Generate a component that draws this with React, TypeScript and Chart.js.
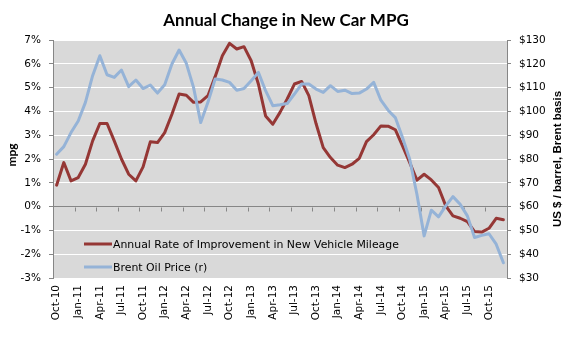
import React, { useEffect, useRef } from 'react';
import { Chart, registerables } from 'chart.js';

Chart.register(...registerables);

const months = [
  'Oct-10', 'Nov-10', 'Dec-10',
  'Jan-11', 'Feb-11', 'Mar-11', 'Apr-11', 'May-11', 'Jun-11', 'Jul-11', 'Aug-11', 'Sep-11', 'Oct-11', 'Nov-11', 'Dec-11',
  'Jan-12', 'Feb-12', 'Mar-12', 'Apr-12', 'May-12', 'Jun-12', 'Jul-12', 'Aug-12', 'Sep-12', 'Oct-12', 'Nov-12', 'Dec-12',
  'Jan-13', 'Feb-13', 'Mar-13', 'Apr-13', 'May-13', 'Jun-13', 'Jul-13', 'Aug-13', 'Sep-13', 'Oct-13', 'Nov-13', 'Dec-13',
  'Jan-14', 'Feb-14', 'Mar-14', 'Apr-14', 'May-14', 'Jun-14', 'Jul-14', 'Aug-14', 'Sep-14', 'Oct-14', 'Nov-14', 'Dec-14',
  'Jan-15', 'Feb-15', 'Mar-15', 'Apr-15', 'May-15', 'Jun-15', 'Jul-15', 'Aug-15', 'Sep-15', 'Oct-15', 'Nov-15', 'Dec-15',
];

// Annual rate of improvement in new vehicle mileage (%)
const mpgChange = [
  0.9, 1.85, 1.08, 1.22, 1.78, 2.76, 3.49, 3.49, 2.76, 2.0, 1.36, 1.08, 1.67, 2.72, 2.69, 3.11,
  3.88, 4.73, 4.68, 4.38, 4.4, 4.66, 5.46, 6.34, 6.86, 6.62, 6.72, 6.13, 5.15, 3.81, 3.46, 3.96,
  4.52, 5.15, 5.26, 4.66, 3.49, 2.48, 2.06, 1.74, 1.64, 1.78, 2.03, 2.73, 3.02, 3.39, 3.38, 3.23,
  2.55, 1.85, 1.11, 1.36, 1.12, 0.8, 0.03, -0.39, -0.49, -0.63, -1.05, -1.07, -0.91, -0.49, -0.55,
];

// Brent oil price, US $ / barrel (right axis)
const brentPrice = [
  82, 85.2, 91.1, 96, 103.8, 115, 123.4, 115.4, 114.3, 117.4, 110.4, 113.2, 109.6, 111.1, 107.7, 111.2,
  119.9, 125.8, 120.2, 110.1, 95.3, 103.8, 113.6, 113.2, 112.2, 108.9, 109.6, 112.9, 116.4, 108.7, 102.4, 102.8,
  103.3, 107.3, 111.5, 111.5, 109.4, 108, 110.8, 108.4, 108.9, 107.5, 107.7, 109.4, 112.2, 104.7, 100.5, 97.4,
  89, 79.9, 65.2, 47.7, 58.5, 55.7, 60.3, 64.2, 61, 56.1, 47, 47.9, 48.6, 44.2, 36.4,
];

const leftTicks = { min: -3, max: 7, step: 1 };
const rightTicks = { min: 30, max: 130, step: 10 };

const chartTitle = 'Annual Change in New Car MPG';
const leftAxisTitle = 'mpg';
const rightAxisTitle = 'US $ / barrel, Brent basis';
const seriesNames = ['Annual Rate of Improvement in New Vehicle Mileage', 'Brent Oil Price (r)'];

const RED = '#953735';
const BLUE = '#95B3D7';
const PLOT_BG = '#D9D9D9';
const AXIS = '#868686';
const TICK_FONT = 'DejaVu Sans';

const decor = {
  id: 'decor',
  beforeDraw(chart: any) {
    const { ctx, chartArea: a } = chart;
    ctx.save();
    ctx.fillStyle = PLOT_BG;
    ctx.fillRect(a.left, a.top, a.right - a.left, a.bottom - a.top);
    ctx.restore();
  },
  beforeDatasetsDraw(chart: any) {
    const { ctx } = chart;
    const xs = chart.scales.x;
    const ys = chart.scales.y;
    const y0 = Math.round(ys.getPixelForValue(0)) + 0.5;
    const half = (xs.getPixelForValue(1) - xs.getPixelForValue(0)) / 2;
    ctx.save();
    ctx.strokeStyle = AXIS;
    ctx.lineWidth = 1;
    ctx.beginPath();
    for (let i = 0; i <= months.length; i += 3) {
      const px = Math.round(xs.getPixelForValue(i) - half) + 0.5;
      ctx.moveTo(px, y0);
      ctx.lineTo(px, y0 + 4);
    }
    ctx.stroke();
    ctx.restore();
  },
  afterDraw(chart: any) {
    const { ctx, chartArea: a, width } = chart;
    ctx.save();
    // main title
    ctx.fillStyle = '#000';
    ctx.font = 'bold 17px Lato';
    ctx.textAlign = 'center';
    ctx.textBaseline = 'middle';
    ctx.fillText(chartTitle, width / 2, 21);

    // left axis title
    ctx.save();
    ctx.translate(12, (a.top + a.bottom) / 2 - 4);
    ctx.rotate(-Math.PI / 2);
    ctx.font = 'bold 12px Lato';
    ctx.fillText(leftAxisTitle, 0, 0);
    ctx.restore();

    // right axis title
    ctx.save();
    ctx.translate(558, (a.top + a.bottom) / 2);
    ctx.rotate(-Math.PI / 2);
    ctx.font = 'bold 11.5px "Liberation Sans"';
    ctx.fillText(rightAxisTitle, 0, 0);
    ctx.restore();

    // legend inside plot area
    const colors = [RED, BLUE];
    const rowsY = [a.bottom - 34, a.bottom - 11];
    ctx.font = `10.9px "${TICK_FONT}"`;
    ctx.textAlign = 'left';
    for (let k = 0; k < seriesNames.length; k++) {
      const y = rowsY[k];
      ctx.strokeStyle = colors[k];
      ctx.lineWidth = 3;
      ctx.beginPath();
      ctx.moveTo(a.left + 31, y);
      ctx.lineTo(a.left + 59, y);
      ctx.stroke();
      ctx.fillStyle = '#000';
      ctx.fillText(seriesNames[k], a.left + 60, y + 1);
    }
    ctx.restore();
  },
};

export default function App() {
  const ref = useRef<HTMLCanvasElement>(null);
  useEffect(() => {
    document.body.style.margin = '0';
    const chart = new Chart(ref.current as HTMLCanvasElement, {
      type: 'line',
      data: {
        labels: months,
        datasets: [
          {
            label: seriesNames[0],
            data: mpgChange,
            yAxisID: 'y',
            borderColor: RED,
            backgroundColor: RED,
            borderWidth: 3,
            pointRadius: 0,
            tension: 0,
            borderJoinStyle: 'round',
            borderCapStyle: 'round',
            order: 1,
          },
          {
            label: seriesNames[1],
            data: brentPrice,
            yAxisID: 'y1',
            borderColor: BLUE,
            backgroundColor: BLUE,
            borderWidth: 3,
            pointRadius: 0,
            tension: 0,
            borderJoinStyle: 'round',
            borderCapStyle: 'round',
            order: 0,
          },
        ],
      },
      options: {
        responsive: false,
        animation: false,
        layout: { padding: { top: 40, left: 0, right: 0, bottom: 0 } },
        plugins: {
          legend: { display: false },
          title: { display: false },
          tooltip: { enabled: false },
        },
        scales: {
          x: {
            type: 'category',
            offset: true,
            grid: { display: false, drawTicks: false },
            border: { display: false },
            ticks: {
              autoSkip: false,
              maxRotation: 90,
              minRotation: 90,
              padding: 7,
              color: '#000',
              font: { family: TICK_FONT, size: 10.5 },
              callback: (_v: any, i: number) => (i % 3 === 0 ? months[i] : ''),
            },
            afterFit: (s: any) => {
              s.height = 65;
            },
          },
          y: {
            position: 'left',
            min: leftTicks.min,
            max: leftTicks.max,
            ticks: {
              stepSize: leftTicks.step,
              padding: 8,
              color: '#000',
              font: { family: TICK_FONT, size: 10.5 },
              callback: (v: any) => `${v}%`,
            },
            grid: {
              color: (c: any) => (c.tick && c.tick.value === 0 ? AXIS : '#FFFFFF'),
              tickColor: AXIS,
              tickLength: 4,
              lineWidth: 1,
            },
            border: { color: AXIS },
            afterFit: (s: any) => {
              s.width = 53;
            },
          },
          y1: {
            position: 'right',
            min: rightTicks.min,
            max: rightTicks.max,
            ticks: {
              stepSize: rightTicks.step,
              padding: 8,
              color: '#000',
              font: { family: TICK_FONT, size: 10.5 },
              callback: (v: any) => `$${v}`,
            },
            grid: { drawOnChartArea: false, tickColor: AXIS, tickLength: 4 },
            border: { color: AXIS },
            afterFit: (s: any) => {
              s.width = 65;
            },
          },
        },
      } as any,
      plugins: [decor],
    });
    return () => chart.destroy();
  }, []);
  return (
    <div style={{ position: 'fixed', left: 0, top: 0, width: 572, height: 343, background: '#fff' }}>
      <canvas ref={ref} width={572} height={343} style={{ display: 'block', width: 572, height: 343 }} />
    </div>
  );
}
